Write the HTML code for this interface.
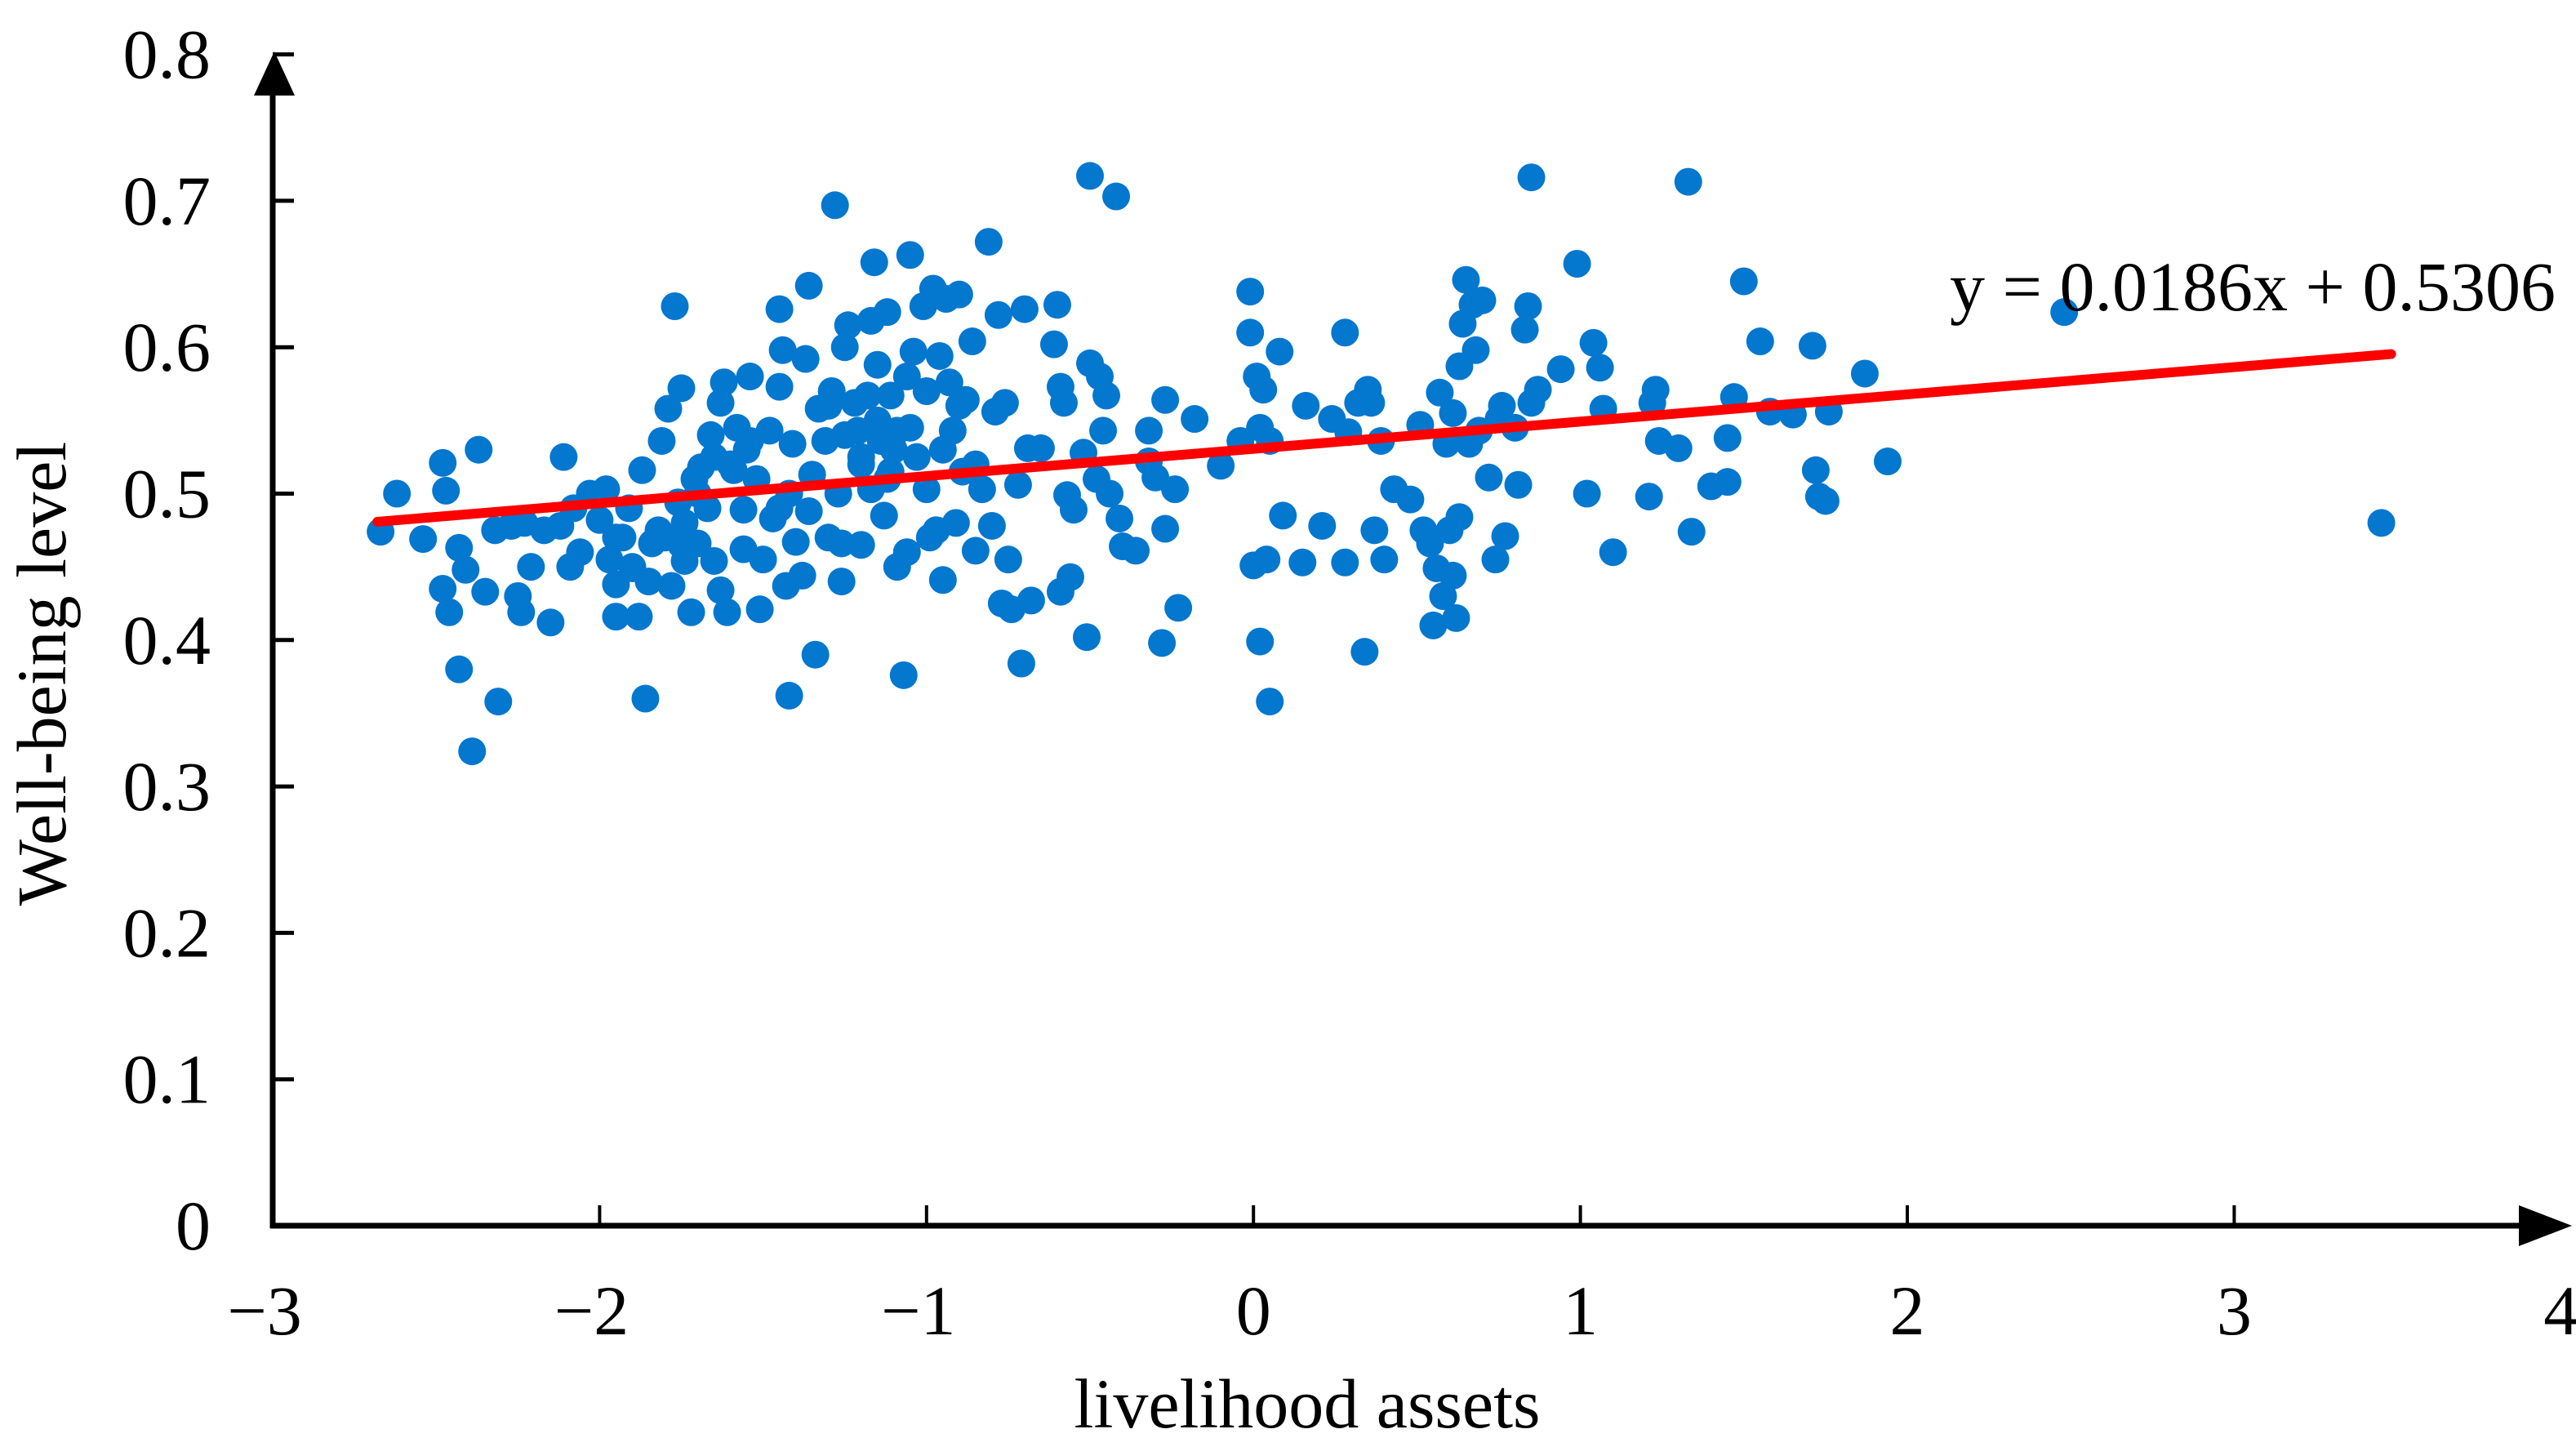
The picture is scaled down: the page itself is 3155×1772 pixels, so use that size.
<!DOCTYPE html>
<html><head><meta charset="utf-8"><style>
html,body{margin:0;padding:0;background:#fff;}
svg{display:block;font-family:"Liberation Serif",serif;}
</style></head><body>
<svg id="chart" width="3155" height="1772" viewBox="0 0 3155 1772" xmlns="http://www.w3.org/2000/svg">
<g id="dots"></g>
<g id="axes"></g>
<text x="2388" y="380" font-size="86" fill="#000">y = 0.0186x + 0.5306</text>
<text x="1601" y="1748" font-size="86" text-anchor="middle" fill="#000">livelihood assets</text>
<text transform="translate(80,825) rotate(-90)" font-size="86" text-anchor="middle" fill="#000">Well-being level</text>
</svg>
<script>
const xTicks=[-3,-2,-1,0,1,2,3,4];
const xTickLabels=["\u22123","\u22122","\u22121","0","1","2","3","4"];
const yTicks=[0,0.1,0.2,0.3,0.4,0.5,0.6,0.7,0.8];
const yTickLabels=["0","0.1","0.2","0.3","0.4","0.5","0.6","0.7","0.8"];
const trendSlope=0.0186;
const trendIntercept=0.5306;
const trendRange=[-2.68,3.48];
const xs=[-2.67,-2.62,-2.54,-2.48,-2.47,-2.48,-2.46,-2.43,-2.41,-2.43,-2.37,-2.35,-2.31,-2.39,-2.32,-2.27,-2.25,-2.24,-2.23,-2.21,-2.17,-2.15,-2.12,-2.11,-2.09,-2.08,-2.06,-2.03,-2.0,-1.98,-1.97,-1.95,-1.95,-1.93,-1.91,-1.90,-1.88,-1.87,-1.86,-1.84,-1.82,-1.81,-1.79,-1.78,-1.77,-1.76,-1.75,-1.74,-1.74,-1.72,-1.71,-1.70,-1.69,-1.67,-1.66,-1.65,-1.63,-1.63,-1.62,-1.61,-1.59,-1.58,-1.56,-1.56,-1.54,-1.54,-1.52,-1.51,-1.48,-1.47,-1.45,-1.45,-1.44,-1.43,-1.42,-1.42,-1.41,-1.40,-1.38,-1.37,-1.36,-1.36,-1.35,-1.34,-1.33,-1.31,-1.29,-1.28,-1.27,-1.26,-1.26,-1.25,-1.24,-1.22,-1.21,-1.20,-1.18,-1.17,-1.17,-1.16,-1.15,-1.14,-1.13,-1.12,-1.11,-1.11,-1.09,-1.09,-1.07,-1.06,-1.06,-1.05,-1.04,-1.03,-1.01,-1.0,-0.99,-0.98,-0.97,-0.96,-0.95,-0.94,-0.93,-0.92,-0.91,-0.90,-0.89,-0.88,-0.86,-0.85,-0.83,-0.81,-0.80,-0.79,-0.78,-0.77,-0.76,-0.75,-0.74,-0.72,-0.71,-0.70,-0.69,-0.68,-0.65,-0.61,-0.60,-0.59,-0.59,-0.58,-0.57,-0.56,-0.55,-0.52,-0.51,-0.50,-0.50,-0.48,-0.47,-0.46,-0.45,-0.44,-0.42,-0.41,-0.40,-0.36,-0.32,-0.32,-0.30,-0.28,-0.27,-0.27,-0.24,-0.23,-0.18,-0.10,-0.04,-0.01,-0.01,0.0,0.01,0.02,0.02,0.03,0.04,0.05,0.05,0.08,0.09,0.15,0.16,0.21,0.24,0.28,0.28,0.29,0.32,0.34,0.35,0.36,0.37,0.39,0.40,0.43,0.48,0.51,0.52,0.54,0.55,0.56,0.57,0.58,0.59,0.60,0.61,0.61,0.62,0.63,0.63,0.64,0.65,0.66,0.67,0.68,0.69,0.70,0.72,0.74,0.75,0.76,0.77,0.80,0.81,0.83,0.84,0.85,0.85,0.87,0.94,0.99,1.02,1.04,1.06,1.07,1.10,1.21,1.22,1.23,1.24,1.30,1.33,1.34,1.40,1.45,1.45,1.47,1.50,1.55,1.58,1.65,1.71,1.72,1.73,1.75,1.76,1.87,1.94,2.48,3.45,
-1.15,-1.1,-1.05,-1.2,-1.12,-0.95,-1.25,-1.3,-0.85,-1.0,-0.9,-1.6,-1.65,-1.7,-1.55,-1.75,-1.8,-1.85,-1.9,-1.95,-1.2,-1.3,-1.45,-1.5];
const ys=[0.474,0.50,0.469,0.521,0.502,0.435,0.419,0.463,0.448,0.38,0.53,0.433,0.358,0.324,0.475,0.478,0.43,0.419,0.48,0.45,0.475,0.412,0.478,0.525,0.45,0.49,0.46,0.50,0.482,0.503,0.455,0.438,0.416,0.47,0.49,0.449,0.416,0.516,0.36,0.466,0.475,0.536,0.558,0.437,0.628,0.494,0.572,0.454,0.48,0.419,0.51,0.466,0.518,0.49,0.54,0.454,0.562,0.434,0.576,0.419,0.516,0.545,0.462,0.489,0.536,0.58,0.51,0.421,0.543,0.483,0.626,0.573,0.598,0.437,0.362,0.50,0.534,0.467,0.444,0.592,0.642,0.488,0.513,0.39,0.558,0.536,0.57,0.697,0.50,0.466,0.44,0.60,0.615,0.562,0.543,0.525,0.567,0.618,0.503,0.658,0.588,0.536,0.485,0.624,0.515,0.567,0.45,0.543,0.376,0.58,0.46,0.663,0.597,0.525,0.628,0.503,0.47,0.64,0.475,0.594,0.441,0.633,0.576,0.543,0.48,0.636,0.515,0.564,0.604,0.461,0.503,0.672,0.478,0.556,0.622,0.425,0.562,0.455,0.421,0.506,0.384,0.626,0.531,0.427,0.531,0.602,0.629,0.573,0.433,0.562,0.499,0.443,0.489,0.528,0.402,0.717,0.589,0.51,0.58,0.543,0.567,0.50,0.703,0.483,0.464,0.461,0.543,0.522,0.511,0.398,0.564,0.476,0.503,0.422,0.551,0.519,0.536,0.638,0.61,0.451,0.58,0.545,0.399,0.571,0.455,0.536,0.358,0.597,0.485,0.453,0.56,0.478,0.551,0.61,0.453,0.542,0.562,0.392,0.571,0.562,0.475,0.536,0.455,0.503,0.496,0.547,0.475,0.466,0.41,0.449,0.569,0.43,0.534,0.475,0.555,0.444,0.415,0.587,0.484,0.616,0.646,0.534,0.629,0.598,0.543,0.632,0.511,0.455,0.551,0.56,0.471,0.545,0.506,0.612,0.628,0.716,0.562,0.571,0.585,0.657,0.50,0.603,0.586,0.558,0.46,0.498,0.562,0.571,0.536,0.531,0.713,0.474,0.505,0.538,0.508,0.566,0.645,0.604,0.556,0.554,0.601,0.516,0.498,0.495,0.556,0.582,0.522,0.624,0.48,
0.55,0.53,0.545,0.52,0.51,0.53,0.54,0.56,0.52,0.57,0.56,0.52,0.525,0.50,0.53,0.465,0.47,0.44,0.45,0.47,0.465,0.47,0.49,0.455];
const NS="http://www.w3.org/2000/svg";
const X0=334,XU=400.4,Y0=1501,YU=1793;
function sx(v){return X0+(v+3)*XU;}
function sy(v){return Y0-v*YU;}
function mk(tag,attrs,parent){const e=document.createElementNS(NS,tag);for(const k in attrs)e.setAttribute(k,attrs[k]);parent.appendChild(e);return e;}
const dots=document.getElementById('dots');
for(let i=0;i<xs.length;i++){
  const c=mk('circle',{cx:sx(xs[i]),cy:sy(ys[i]),r:17,fill:'#0477CF'},dots);
  
  
}
const tl=mk('line',{x1:sx(trendRange[0]),y1:sy(trendSlope*trendRange[0]+trendIntercept),x2:sx(trendRange[1]),y2:sy(trendSlope*trendRange[1]+trendIntercept),stroke:'#FF0000','stroke-width':12,'stroke-linecap':'round'},dots);


const ax=document.getElementById('axes');
const xl=mk('line',{x1:X0-3,y1:Y0,x2:3090,y2:Y0,stroke:'#000','stroke-width':7},ax);


const xa=mk('polygon',{points:'3085,1476 3150,1501 3085,1526',fill:'#000'},ax);


const yl=mk('line',{x1:X0,y1:Y0+3,x2:X0,y2:110,stroke:'#000','stroke-width':7},ax);


const ya=mk('polygon',{points:'311,117 336,63 361,117',fill:'#000'},ax);


xTicks.forEach((v,i)=>{
  if(i>0&&i<xTicks.length-1){const t=mk('line',{x1:sx(v),y1:Y0,x2:sx(v),y2:Y0-25,stroke:'#000','stroke-width':4},ax);
  
  }
  const tx=mk('text',{x:sx(v)-(xTickLabels[i].length>1?10:0),y:1634,'font-size':86,'text-anchor':'middle',fill:'#000'},ax);
  tx.textContent=xTickLabels[i];
  
  
});
yTicks.forEach((v,i)=>{
  if(i>0){const t=mk('line',{x1:X0,y1:sy(v),x2:X0+26,y2:sy(v),stroke:'#000','stroke-width':5},ax);
  
  }
  const tx=mk('text',{x:258,y:sy(v)+29,'font-size':86,'text-anchor':'end',fill:'#000'},ax);
  tx.textContent=yTickLabels[i];
  
  
});
</script>
</body></html>
